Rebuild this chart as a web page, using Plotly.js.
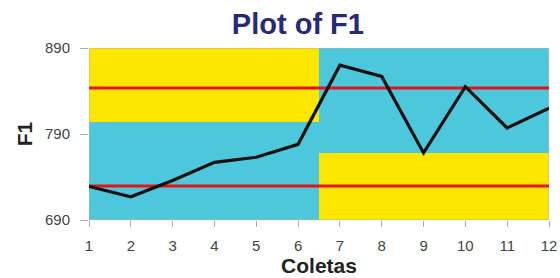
<!DOCTYPE html>
<html>
<head>
<meta charset="utf-8">
<script src="https://cdn.plot.ly/plotly-3.0.1.min.js"></script>
<style>html,body{margin:0;padding:0;background:#fff;}#chart{width:560px;height:278px;}</style>
</head>
<body>
<div id="chart"></div>
<script>
const coletas = [1,2,3,4,5,6,7,8,9,10,11,12];
const f1Values = [729,717,736,757,763,778,870,857,768,845,797,820];
const controlLimits = [729.5, 843.5];
const tickLabels = ['1','2','3','4','5','6','7','8','9','10','11','12'];
const yTicks = [690, 790, 890];
const zoneX = [1, 6.5, 12];
const zoneUpperLeftBottom = 804;
const zoneLowerRightTop = 768;

const yellow = '#FDE700';
const cyan = '#4DC7DB';
const font = 'Liberation Sans, Arial, sans-serif';

const shapes = [
  {type:'rect', xref:'x', yref:'y', x0:zoneX[0], x1:zoneX[2], y0:690, y1:890, fillcolor:cyan, line:{width:0}, layer:'below'},
  {type:'rect', xref:'x', yref:'y', x0:zoneX[0], x1:zoneX[1], y0:zoneUpperLeftBottom, y1:890, fillcolor:yellow, line:{width:0}, layer:'below'},
  {type:'rect', xref:'x', yref:'y', x0:zoneX[1], x1:zoneX[2], y0:690, y1:zoneLowerRightTop, fillcolor:yellow, line:{width:0}, layer:'below'},
  {type:'rect', xref:'x', yref:'y', x0:zoneX[0], x1:zoneX[2], y0:690, y1:890, fillcolor:'rgba(0,0,0,0)', line:{width:1, color:'#b8b890'}, layer:'below'}
];

const traces = controlLimits.map(v => ({
  x:[coletas[0], coletas[coletas.length-1]], y:[v, v], mode:'lines',
  line:{color:'#E3141C', width:3}, hoverinfo:'skip', showlegend:false
}));
traces.push({x:coletas, y:f1Values, mode:'lines', line:{color:'#111111', width:3.2}, showlegend:false});

const layout = {
  width:560, height:278,
  margin:{l:89, r:11, t:48, b:58},
  paper_bgcolor:'#ffffff', plot_bgcolor:'#ffffff',
  title:{text:'<b>Plot of F1</b>', x:0.532, xanchor:'center', y:0.915, yanchor:'middle',
    font:{family:font, size:29, color:'#27297A'}},
  xaxis:{range:[1,12], tickvals:coletas, ticktext:tickLabels, showgrid:false, zeroline:false,
    ticks:'outside', ticklen:6, tickcolor:'#aaa', showline:false, ticklabelstandoff:6,
    tickfont:{family:font, size:15, color:'#444'},
    title:{text:'<b>Coletas</b>', standoff:3, font:{family:font, size:21, color:'#222'}}},
  yaxis:{range:[690,890], tickvals:yTicks, showgrid:false, zeroline:false,
    ticks:'outside', ticklen:8, tickcolor:'#aaa', showline:false, ticklabelstandoff:7,
    tickfont:{family:font, size:15, color:'#444'},
    title:{text:'<b>F1</b>', standoff:6, font:{family:font, size:21, color:'#222'}}},
  shapes:shapes
};
Plotly.newPlot('chart', traces, layout, {staticPlot:true, displayModeBar:false});
</script>
</body>
</html>
